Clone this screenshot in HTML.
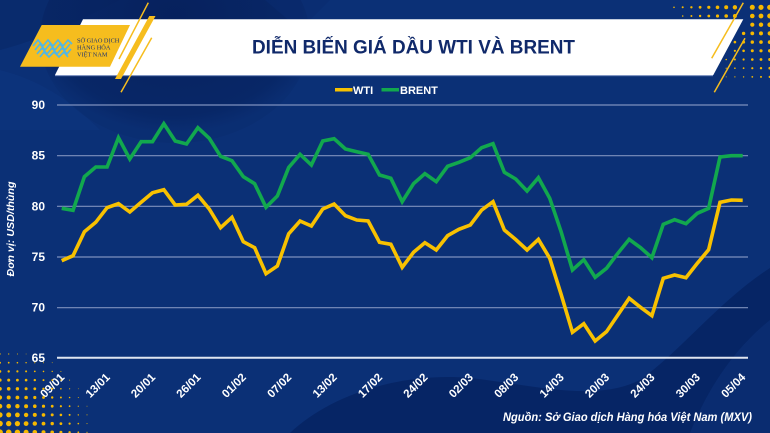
<!DOCTYPE html>
<html><head><meta charset="utf-8"><style>
html,body{margin:0;padding:0;background:#0b3076;}
svg{display:block;}
</style></head><body>
<svg width="770" height="433" viewBox="0 0 770 433" xmlns="http://www.w3.org/2000/svg" font-family="'Liberation Sans', 'Noto Sans CJK SC', sans-serif">
<defs>
<radialGradient id="gdark" cx="0.5" cy="0.4" r="0.55">
<stop offset="0" stop-color="#061f5a" stop-opacity="0.9"/>
<stop offset="0.85" stop-color="#072462" stop-opacity="0.75"/>
<stop offset="1" stop-color="#072462" stop-opacity="0.2"/>
</radialGradient>
</defs>
<rect width="770" height="433" fill="#0b3076"/>
<!-- background shapes -->
<path d="M0 0 L120 0 C80 20 40 40 0 50 Z" fill="#082868" opacity="0.6"/>
<path d="M0 70 C40 80 70 100 100 130 L0 130 Z" fill="#0d3680" opacity="0.5"/>
<ellipse cx="175" cy="38" rx="135" ry="105" fill="url(#gdark)"/>
<path d="M265 0 L330 0 L300 30 Z" fill="#0a2b6f" opacity="0.6"/>
<path d="M290 433 C330 395 400 372 470 378 C540 386 595 402 640 380 C680 352 720 300 770 268 L770 320 C730 352 705 395 690 433 Z" fill="#062160" opacity="0.75"/>
<path d="M690 433 C705 395 730 352 770 320 L770 433 Z" fill="#0a2a6c" opacity="0.6"/>

<!-- banner -->
<polygon points="83,19.3 743.3,19.3 713.3,75 55,75" fill="#ffffff"/>
<line x1="55" y1="75.6" x2="713" y2="75.6" stroke="#93a6d0" stroke-width="1"/>
<!-- yellow logo box -->
<polygon points="41.7,25 130,25 110,66.7 20,66.7" fill="#f6bd1e"/>
<!-- yellow stripes -->
<polygon points="149.3,16 155.5,16 121,79 115,79" fill="#f6bd1e"/>
<line x1="148.3" y1="2.7" x2="119" y2="59" stroke="#f6bd1e" stroke-width="1.5"/>
<line x1="151.7" y1="37.7" x2="121" y2="92.3" stroke="#f6bd1e" stroke-width="1.5"/>
<line x1="743.3" y1="2.7" x2="711.7" y2="58.3" stroke="#f6bd1e" stroke-width="1.5"/>
<line x1="745" y1="38.3" x2="714.3" y2="92.3" stroke="#f6bd1e" stroke-width="1.5"/>
<!-- logo zigzag -->
<g fill="none" stroke="#4fb6e6" stroke-width="1.6" stroke-linejoin="miter">
<polyline points="33,46 38,40 43,46 48,40 53,46 58,40 63,46 68,40 72,44"/>
<polyline points="35,50 40,44 45,50 50,44 55,50 60,44 65,50 70,44"/>
<polyline points="37,54 42,48 47,54 52,48 57,54 62,48 67,54 71,49"/>
<polyline points="40,57 44,52 49,57 54,52 59,57 64,52 68,57"/>
</g>
<g fill="#1b3270" font-family="'Liberation Serif', serif" font-size="6.3">
<text x="77" y="42.5">SỞ GIAO DỊCH</text>
<text x="77" y="49.5">HÀNG HÓA</text>
<text x="77" y="56.5">VIỆT NAM</text>
</g>
<!-- title -->
<text x="252" y="53.3" font-size="19" font-weight="bold" fill="#10296a" textLength="323" lengthAdjust="spacingAndGlyphs">DIỄN BIẾN GIÁ DẦU WTI VÀ BRENT</text>

<!-- legend -->
<line x1="335" y1="89.7" x2="352.5" y2="89.7" stroke="#f8c100" stroke-width="3.5"/>
<text x="353" y="94" font-size="11" font-weight="bold" fill="#ffffff">WTI</text>
<line x1="381.5" y1="89.7" x2="399" y2="89.7" stroke="#12a84e" stroke-width="3.5"/>
<text x="400" y="94" font-size="11" font-weight="bold" fill="#ffffff">BRENT</text>

<!-- gridlines -->
<g stroke="#7e91be" stroke-width="1.2">
<line x1="57" y1="105" x2="748" y2="105"/>
<line x1="57" y1="155.7" x2="748" y2="155.7"/>
<line x1="57" y1="206.3" x2="748" y2="206.3"/>
<line x1="57" y1="257" x2="748" y2="257"/>
<line x1="57" y1="307.7" x2="748" y2="307.7"/>
</g>
<line x1="57" y1="357.7" x2="748" y2="357.7" stroke="#dfe5f0" stroke-width="2"/>

<!-- y labels -->
<g font-size="12" font-weight="bold" fill="#ffffff" text-anchor="end">
<text x="45" y="109">90</text>
<text x="45" y="159.7">85</text>
<text x="45" y="210.3">80</text>
<text x="45" y="261">75</text>
<text x="45" y="311.7">70</text>
<text x="45" y="362">65</text>
</g>
<text transform="translate(14,229) rotate(-90)" text-anchor="middle" font-size="10.5" font-weight="bold" font-style="italic" fill="#ffffff" textLength="95" lengthAdjust="spacingAndGlyphs">Đơn vị: USD/thùng</text>

<!-- series -->
<polyline fill="none" stroke="#12a84e" stroke-width="3.6" stroke-linejoin="miter" stroke-miterlimit="3" points="61.7,208.3 73.05,210.3 84.4,176.7 95.75,167 107.1,167 118.45,137.7 129.8,159 141.15,141.7 152.5,141.7 163.85,123.7 175.2,141 186.55,144 197.9,127.7 209.25,138.3 220.6,156.3 231.95,160.7 243.3,176.7 254.65,183.7 266,207.3 277.35,196 288.7,167.5 300.05,154.3 311.4,165 322.75,141 334.1,138.7 345.45,149 356.8,151.7 368.15,154.3 379.5,175 390.85,178.3 402.2,201.7 413.55,183.7 424.9,173.7 436.25,181.7 447.6,166.3 458.95,162.3 470.3,157.7 481.65,147.7 493,143.7 504.35,172.3 515.7,179 527.05,191 538.4,177.7 549.75,198.3 561.1,231.7 572.45,270 583.8,259.7 595.15,277.3 606.5,268.3 617.85,253.3 629.2,239.3 640.55,247.7 651.9,257.7 663.25,224.3 674.6,219.7 685.95,223.7 697.3,213.3 708.65,208.3 720,157 731.35,155.7 742.7,155.7"/>
<polyline fill="none" stroke="#f8c100" stroke-width="3.6" stroke-linejoin="miter" stroke-miterlimit="3" points="61.7,260.7 73.05,255.7 84.4,231.7 95.75,222.3 107.1,207.7 118.45,203.7 129.8,212 141.15,202.3 152.5,192.7 163.85,189.7 175.2,205 186.55,204.3 197.9,195.3 209.25,209 220.6,227.7 231.95,217.3 243.3,241.7 254.65,247.7 266,273.7 277.35,266 288.7,233.8 300.05,221 311.4,226 322.75,209 334.1,204 345.45,215.7 356.8,220 368.15,221 379.5,242.3 390.85,244.3 402.2,267.3 413.55,252.3 424.9,242.7 436.25,250 447.6,235.7 458.95,229.3 470.3,225 481.65,210 493,201.7 504.35,230 515.7,239.5 527.05,250 538.4,239.3 549.75,258.3 561.1,294.3 572.45,332.3 583.8,323.7 595.15,341 606.5,331.7 617.85,315 629.2,298.3 640.55,307.3 651.9,315.7 663.25,278.3 674.6,275 685.95,277.7 697.3,263.3 708.65,249.7 720,202.3 731.35,200 742.7,200.3"/>

<!-- x labels -->
<g font-size="11.5" font-weight="bold" fill="#ffffff" text-anchor="end">
<text transform="translate(65.2,378) rotate(-45)">09/01</text>
<text transform="translate(110.6,378) rotate(-45)">13/01</text>
<text transform="translate(156,378) rotate(-45)">20/01</text>
<text transform="translate(201.4,378) rotate(-45)">26/01</text>
<text transform="translate(246.8,378) rotate(-45)">01/02</text>
<text transform="translate(292.2,378) rotate(-45)">07/02</text>
<text transform="translate(337.6,378) rotate(-45)">13/02</text>
<text transform="translate(383,378) rotate(-45)">17/02</text>
<text transform="translate(428.4,378) rotate(-45)">24/02</text>
<text transform="translate(473.8,378) rotate(-45)">02/03</text>
<text transform="translate(519.2,378) rotate(-45)">08/03</text>
<text transform="translate(564.6,378) rotate(-45)">14/03</text>
<text transform="translate(610,378) rotate(-45)">20/03</text>
<text transform="translate(655.4,378) rotate(-45)">24/03</text>
<text transform="translate(700.8,378) rotate(-45)">30/03</text>
<text transform="translate(746.2,378) rotate(-45)">05/04</text>
</g>

<!-- source -->
<text x="503" y="421" font-size="12" font-weight="bold" font-style="italic" fill="#ffffff" textLength="249" lengthAdjust="spacingAndGlyphs">Nguồn: Sở Giao dịch Hàng hóa Việt Nam (MXV)</text>

<!-- dots -->
<g fill="#f5b800">
<circle cx="674" cy="7.3" r="0.8"/><circle cx="682.7" cy="7.3" r="1"/><circle cx="691.4" cy="7.3" r="1.2"/><circle cx="700.1" cy="7.3" r="1.4"/><circle cx="708.8" cy="7.3" r="1.6"/><circle cx="717.5" cy="7.3" r="1.8"/><circle cx="726.2" cy="7.3" r="2"/><circle cx="734.9" cy="7.3" r="2.2"/><circle cx="752.3" cy="7.3" r="2.5"/><circle cx="761" cy="7.3" r="2.6"/><circle cx="769.7" cy="7.3" r="2.6"/>
<circle cx="682.7" cy="16" r="0.8"/><circle cx="691.4" cy="16" r="1"/><circle cx="700.1" cy="16" r="1.2"/><circle cx="708.8" cy="16" r="1.4"/><circle cx="717.5" cy="16" r="1.6"/><circle cx="726.2" cy="16" r="1.8"/><circle cx="734.9" cy="16" r="2"/><circle cx="752.3" cy="16" r="2.3"/><circle cx="761" cy="16" r="2.4"/><circle cx="769.7" cy="16" r="2.5"/>
<circle cx="752.3" cy="24.7" r="2.1"/><circle cx="761" cy="24.7" r="2.2"/><circle cx="769.7" cy="24.7" r="2.3"/>
<circle cx="743.6" cy="33.4" r="1.7"/><circle cx="752.3" cy="33.4" r="1.9"/><circle cx="761" cy="33.4" r="2"/><circle cx="769.7" cy="33.4" r="2.1"/>
<circle cx="734.9" cy="42.1" r="1.3"/><circle cx="743.6" cy="42.1" r="1.5"/><circle cx="752.3" cy="42.1" r="1.7"/><circle cx="761" cy="42.1" r="1.8"/><circle cx="769.7" cy="42.1" r="1.9"/>
<circle cx="734.9" cy="50.8" r="1.1"/><circle cx="743.6" cy="50.8" r="1.3"/><circle cx="752.3" cy="50.8" r="1.5"/><circle cx="761" cy="50.8" r="1.6"/><circle cx="769.7" cy="50.8" r="1.7"/>
<circle cx="726.2" cy="59.5" r="0.8"/><circle cx="734.9" cy="59.5" r="1"/><circle cx="743.6" cy="59.5" r="1.1"/><circle cx="752.3" cy="59.5" r="1.3"/><circle cx="761" cy="59.5" r="1.4"/><circle cx="769.7" cy="59.5" r="1.5"/>
<circle cx="726.2" cy="68.2" r="0.6"/><circle cx="734.9" cy="68.2" r="0.8"/><circle cx="743.6" cy="68.2" r="0.9"/><circle cx="752.3" cy="68.2" r="1.1"/><circle cx="761" cy="68.2" r="1.2"/><circle cx="769.7" cy="68.2" r="1.3"/>
<circle cx="726.2" cy="76.9" r="0.5"/><circle cx="734.9" cy="76.9" r="0.6"/><circle cx="743.6" cy="76.9" r="0.7"/><circle cx="752.3" cy="76.9" r="0.9"/><circle cx="761" cy="76.9" r="1"/><circle cx="769.7" cy="76.9" r="1.1"/>
</g>
<g fill="#f5b800">
<circle cx="0" cy="354" r="0.7"/><circle cx="8.7" cy="354" r="0.6"/><circle cx="17.4" cy="354" r="0.5"/><circle cx="26.1" cy="354" r="0.4"/>
<circle cx="0" cy="362.7" r="1"/><circle cx="8.7" cy="362.7" r="0.9"/><circle cx="17.4" cy="362.7" r="0.8"/><circle cx="26.1" cy="362.7" r="0.7"/><circle cx="34.8" cy="362.7" r="0.6"/><circle cx="43.5" cy="362.7" r="0.5"/><circle cx="52.2" cy="362.7" r="0.4"/>
<circle cx="0" cy="371.4" r="1.3"/><circle cx="8.7" cy="371.4" r="1.2"/><circle cx="17.4" cy="371.4" r="1.1"/><circle cx="26.1" cy="371.4" r="1"/><circle cx="34.8" cy="371.4" r="0.9"/><circle cx="43.5" cy="371.4" r="0.8"/><circle cx="52.2" cy="371.4" r="0.7"/><circle cx="60.9" cy="371.4" r="0.5"/>
<circle cx="0" cy="380.1" r="1.6"/><circle cx="8.7" cy="380.1" r="1.5"/><circle cx="17.4" cy="380.1" r="1.4"/><circle cx="26.1" cy="380.1" r="1.3"/><circle cx="34.8" cy="380.1" r="1.2"/><circle cx="43.5" cy="380.1" r="1"/><circle cx="52.2" cy="380.1" r="0.9"/><circle cx="60.9" cy="380.1" r="0.7"/><circle cx="69.6" cy="380.1" r="0.5"/>
<circle cx="0" cy="388.8" r="1.8"/><circle cx="8.7" cy="388.8" r="1.8"/><circle cx="17.4" cy="388.8" r="1.7"/><circle cx="26.1" cy="388.8" r="1.5"/><circle cx="34.8" cy="388.8" r="1.4"/><circle cx="43.5" cy="388.8" r="1.2"/><circle cx="52.2" cy="388.8" r="1"/><circle cx="60.9" cy="388.8" r="0.8"/><circle cx="69.6" cy="388.8" r="0.6"/><circle cx="78.3" cy="388.8" r="0.4"/>
<circle cx="0" cy="397.5" r="2.1"/><circle cx="8.7" cy="397.5" r="2"/><circle cx="17.4" cy="397.5" r="1.9"/><circle cx="26.1" cy="397.5" r="1.8"/><circle cx="34.8" cy="397.5" r="1.6"/><circle cx="43.5" cy="397.5" r="1.4"/><circle cx="52.2" cy="397.5" r="1.2"/><circle cx="60.9" cy="397.5" r="1"/><circle cx="69.6" cy="397.5" r="0.8"/><circle cx="78.3" cy="397.5" r="0.5"/>
<circle cx="0" cy="406.2" r="2.3"/><circle cx="8.7" cy="406.2" r="2.3"/><circle cx="17.4" cy="406.2" r="2.2"/><circle cx="26.1" cy="406.2" r="2"/><circle cx="34.8" cy="406.2" r="1.8"/><circle cx="43.5" cy="406.2" r="1.6"/><circle cx="52.2" cy="406.2" r="1.4"/><circle cx="60.9" cy="406.2" r="1.1"/><circle cx="69.6" cy="406.2" r="0.9"/><circle cx="78.3" cy="406.2" r="0.6"/><circle cx="87" cy="406.2" r="0.4"/>
<circle cx="0" cy="414.9" r="2.6"/><circle cx="8.7" cy="414.9" r="2.5"/><circle cx="17.4" cy="414.9" r="2.4"/><circle cx="26.1" cy="414.9" r="2.2"/><circle cx="34.8" cy="414.9" r="2"/><circle cx="43.5" cy="414.9" r="1.8"/><circle cx="52.2" cy="414.9" r="1.5"/><circle cx="60.9" cy="414.9" r="1.3"/><circle cx="69.6" cy="414.9" r="1"/><circle cx="78.3" cy="414.9" r="0.7"/><circle cx="87" cy="414.9" r="0.5"/>
<circle cx="0" cy="423.6" r="2.8"/><circle cx="8.7" cy="423.6" r="2.7"/><circle cx="17.4" cy="423.6" r="2.6"/><circle cx="26.1" cy="423.6" r="2.4"/><circle cx="34.8" cy="423.6" r="2.2"/><circle cx="43.5" cy="423.6" r="1.9"/><circle cx="52.2" cy="423.6" r="1.7"/><circle cx="60.9" cy="423.6" r="1.4"/><circle cx="69.6" cy="423.6" r="1.1"/><circle cx="78.3" cy="423.6" r="0.8"/><circle cx="87" cy="423.6" r="0.5"/>
<circle cx="0" cy="432.3" r="2.9"/><circle cx="8.7" cy="432.3" r="2.8"/><circle cx="17.4" cy="432.3" r="2.7"/><circle cx="26.1" cy="432.3" r="2.5"/><circle cx="34.8" cy="432.3" r="2.3"/><circle cx="43.5" cy="432.3" r="2"/><circle cx="52.2" cy="432.3" r="1.8"/><circle cx="60.9" cy="432.3" r="1.5"/><circle cx="69.6" cy="432.3" r="1.2"/><circle cx="78.3" cy="432.3" r="0.9"/><circle cx="87" cy="432.3" r="0.6"/>
</g>
</svg>
</body></html>
